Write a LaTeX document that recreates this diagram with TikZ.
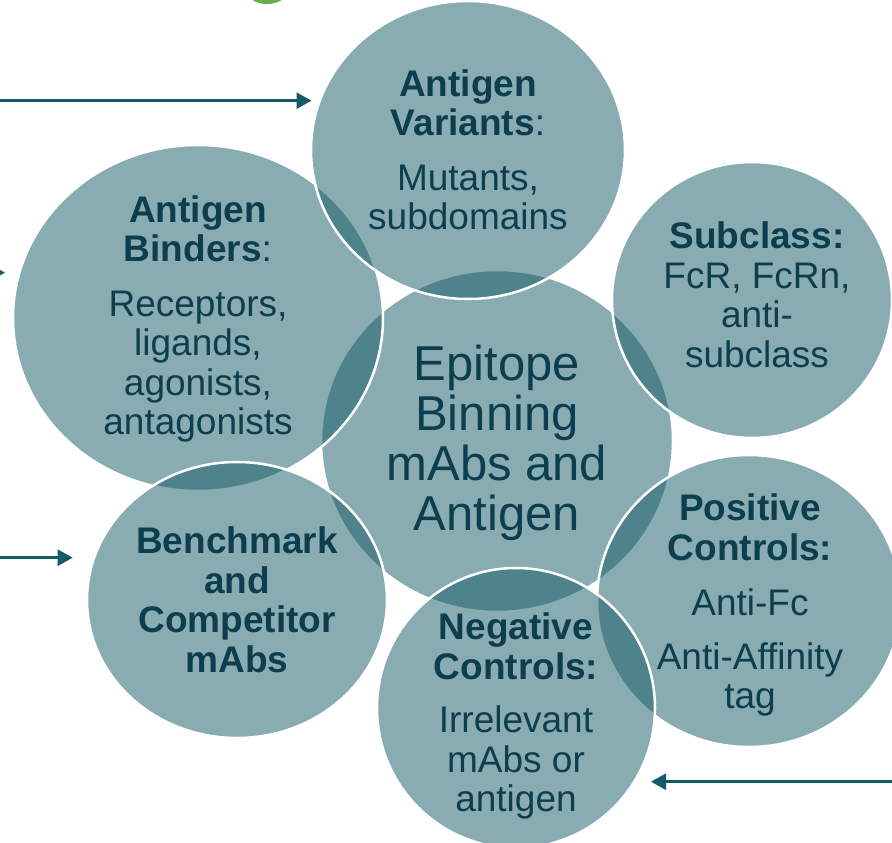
\documentclass[tikz,border=0pt]{standalone}
\usepackage{fontspec}
\setmainfont{Liberation Sans}
\usetikzlibrary{arrows.meta,shapes.geometric}
\definecolor{tealbase}{RGB}{21,91,103}
\definecolor{inktext}{RGB}{12,62,78}
\definecolor{leafgreen}{RGB}{106,175,69}
\tikzset{
  bubble/.style 2 args={ellipse, inner sep=0pt, minimum width=#1, minimum height=#2,
    fill=tealbase, fill opacity=0.5, draw=white, draw opacity=1, line width=2.5pt},
  lbl/.style={text=inktext, align=center, inner sep=0pt,
    font=\fontsize{37}{39.5}\selectfont},
  hub/.style={text=inktext, align=center, inner sep=0pt,
    font=\fontsize{49}{50}\selectfont},
  feed/.style={draw=tealbase, line width=2.6pt,
    -{Triangle[length=15pt,width=16pt]}},
}
\begin{document}
\begin{tikzpicture}[x=1pt,y=-1pt]
\useasboundingbox (0,0) rectangle (892,843);
\clip (0,0) rectangle (892,843);
\fill[white] (0,0) rectangle (892,843);

% small green disc peeking in at the top
\fill[leafgreen] (267,-26) circle (30);

% bubbles, in drawing order
\node[bubble={352pt}{342pt}] (hubc)     at (497,441) {};
\node[bubble={370pt}{346pt}] (binders)  at (198,318) {};
\node[bubble={314pt}{298pt}] (variants) at (468,150) {};
\node[bubble={280pt}{276pt}] (subclass) at (752,300) {};
\node[bubble={304pt}{292pt}] (positive) at (749,601) {};
\node[bubble={278pt}{280pt}] (negative) at (516,708) {};
\node[bubble={300pt}{276pt}] (bench)    at (237,600) {};

% labels
\node[hub] (hubt) at (497,443) {Epitope\\Binning\\mAbs and\\Antigen};
\node[lbl] (variantst) at (468,150) {\textbf{Antigen}\\\textbf{Variants}:\\[15pt]Mutants,\\subdomains};
\node[lbl] (binderst) at (198,319) {\textbf{Antigen}\\\textbf{Binders}:\\[15pt]Receptors,\\ligands,\\agonists,\\antagonists};
\node[lbl] (subclasst) at (757,295) {\textbf{Subclass:}\\FcR, FcRn,\\anti-\\subclass};
\node[lbl] (positivet) at (750,605) {\textbf{Positive}\\\textbf{Controls:}\\[16pt]Anti-Fc\\[14pt]Anti-Affinity\\tag};
\node[lbl] (bencht) at (237,600) {\textbf{Benchmark}\\\textbf{and}\\\textbf{Competitor}\\\textbf{mAbs}};
\node[lbl] (negativet) at (516,716) {\textbf{Negative}\\\textbf{Controls:}\\[14pt]Irrelevant\\mAbs or\\antigen};

% incoming arrows
\coordinate (a1s) at (-10,100.7);
\coordinate (a1e) at (311.5,100.7);
\coordinate (a2s) at (-80,272.7);
\coordinate (a2e) at (5,272.7);
\coordinate (a3s) at (-10,557.7);
\coordinate (a3e) at (72.7,557.7);
\coordinate (a4s) at (900,781.7);
\coordinate (a4e) at (651,781.7);
\draw[feed] (a1s) -- (a1e);
\draw[feed] (a2s) -- (a2e);
\draw[feed] (a3s) -- (a3e);
\draw[feed] (a4s) -- (a4e);
\end{tikzpicture}
\end{document}
